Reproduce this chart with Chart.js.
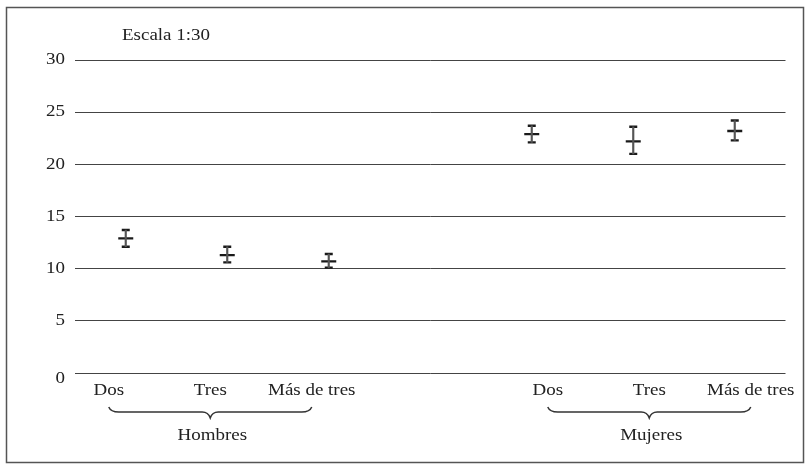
<!DOCTYPE html>
<html>
<head>
<meta charset="utf-8">
<script src="https://cdn.jsdelivr.net/npm/chart.js@4/dist/chart.umd.min.js"></script>
<style>
  html, body { margin: 0; padding: 0; background: #fff; }
  canvas { display: block; }
</style>
</head>
<body>
<canvas id="c" width="810" height="470"></canvas>
<script>
// Category labels for each group
const sizeLabels = ['Dos', 'Tres', 'Más de tres'];
const groupNames = ['Hombres', 'Mujeres'];
const yTicks = [0, 5, 10, 15, 20, 25, 30];

// Means and interval ends, per group
const menMean   = [12.9, 11.3, 10.7];
const menLow    = [12.1, 10.6, 10.1];
const menHigh   = [13.7, 12.1, 11.4];
const womenMean = [22.9, 22.2, 23.2];
const womenLow  = [22.1, 21.0, 22.3];
const womenHigh = [23.7, 23.6, 24.2];

// Both groups on one category axis with an empty slot between them
const labels = [...sizeLabels, '', ...sizeLabels];
const groupOf = [0, 0, 0, null, 1, 1, 1];
const joinGroups = (a, b) => [...a, null, ...b];
const means = joinGroups(menMean, womenMean);
const lows = joinGroups(menLow, womenLow);
const highs = joinGroups(menHigh, womenHigh);

const FONT = '"Liberation Serif", "Times New Roman", serif';
const INK = '#222';

// Slightly wide serif lettering
function wideText(ctx, text, x, y, align) {
  ctx.save();
  ctx.translate(x, y);
  ctx.scale(1.15, 1);
  ctx.textAlign = align;
  ctx.fillText(text, 0, 0);
  ctx.restore();
}

// Frame, caption, axis labels and group braces
const decorations = {
  id: 'decorations',
  afterDraw(chart) {
    const { ctx, chartArea, scales } = chart;
    const x = scales.x, y = scales.y;
    ctx.save();

    ctx.strokeStyle = '#555';
    ctx.lineWidth = 1.5;
    ctx.strokeRect(6.5, 7.5, 797, 455);

    ctx.fillStyle = INK;
    ctx.font = '16.5px ' + FONT;
    ctx.textBaseline = 'alphabetic';
    wideText(ctx, 'Escala 1:30', chartArea.left + 47, chartArea.top - 20, 'left');

    ctx.textBaseline = 'middle';
    yTicks.forEach(v => {
      const py = y.getPixelForValue(v) + (v === 0 ? 6 : 0);
      wideText(ctx, String(v), chartArea.left - 10, py, 'right');
    });

    ctx.textBaseline = 'alphabetic';
    const shift = [-17, 16];
    const centers = [[], []];
    labels.forEach((lab, i) => {
      const g = groupOf[i];
      if (g === null) return;
      const cx = x.getPixelForValue(i) + shift[g];
      centers[g].push(cx);
      wideText(ctx, lab, cx, chartArea.bottom + 22, 'center');
    });

    ctx.strokeStyle = '#333';
    ctx.lineWidth = 1.5;
    const yTop = chartArea.bottom + 34;
    const yMid = chartArea.bottom + 39;
    const yTip = chartArea.bottom + 45;
    centers.forEach((cs, g) => {
      const x1 = cs[0], x2 = cs[cs.length - 1];
      const m = (x1 + x2) / 2;
      ctx.beginPath();
      ctx.moveTo(x1, yTop);
      ctx.quadraticCurveTo(x1 + 2, yMid, x1 + 10, yMid);
      ctx.lineTo(m - 8, yMid);
      ctx.quadraticCurveTo(m - 2, yMid, m, yTip);
      ctx.quadraticCurveTo(m + 2, yMid, m + 8, yMid);
      ctx.lineTo(x2 - 10, yMid);
      ctx.quadraticCurveTo(x2 - 2, yMid, x2, yTop);
      ctx.stroke();
      wideText(ctx, groupNames[g], m + 2, chartArea.bottom + 67, 'center');
    });
    ctx.restore();
  }
};

const capPoint = (data) => ({
  type: 'line',
  data,
  showLine: false,
  pointStyle: 'line',
  pointRadius: 4,
  pointBorderWidth: 2.4,
  pointBorderColor: '#1a1a1a',
  borderColor: '#1a1a1a'
});

new Chart(document.getElementById('c'), {
  type: 'bar',
  data: {
    labels,
    datasets: [
      {
        type: 'bar',
        data: lows.map((l, i) => (l === null ? null : [l, highs[i]])),
        backgroundColor: '#555',
        barThickness: 1.5,
        grouped: false
      },
      capPoint(highs),
      capPoint(lows),
      {
        type: 'line',
        data: means,
        showLine: false,
        pointStyle: 'line',
        pointRadius: 7.5,
        pointBorderWidth: 2.4,
        pointBorderColor: '#1a1a1a',
        borderColor: '#1a1a1a'
      }
    ]
  },
  options: {
    responsive: false,
    animation: false,
    events: [],
    layout: { padding: { left: 75, top: 60, right: 24.5, bottom: 97 } },
    plugins: { legend: { display: false }, tooltip: { enabled: false }, title: { display: false } },
    scales: {
      x: {
        display: false,
        offset: true
      },
      y: {
        min: 0,
        max: 30,
        afterBuildTicks(scale) { scale.ticks = yTicks.map(v => ({ value: v })); },
        afterFit(scale) { scale.width = 0; },
        grid: { color: '#444', lineWidth: 1, drawTicks: false },
        border: { display: false },
        ticks: { display: false }
      }
    }
  },
  plugins: [decorations]
});
</script>
</body>
</html>
